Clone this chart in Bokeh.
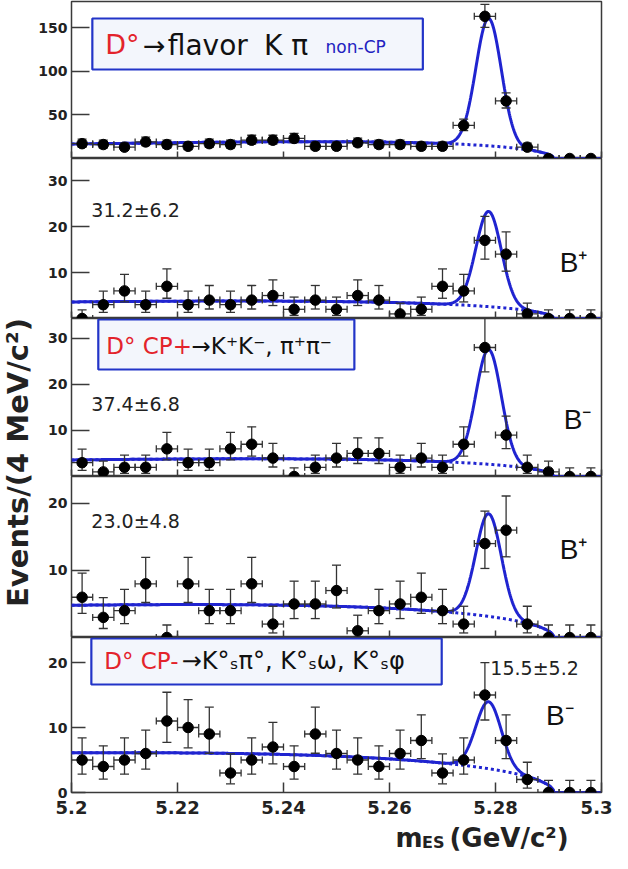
import math
import numpy as np
from bokeh.plotting import figure
from bokeh.layouts import column, row
from bokeh.models import Range1d, FixedTicker, Label, BoxAnnotation, CustomJSTickFormatter
from bokeh.embed import file_html
from bokeh.resources import INLINE

# ---------------- data ----------------
mes = [5.202, 5.206, 5.210, 5.214, 5.218, 5.222, 5.226, 5.230, 5.234, 5.238,
       5.242, 5.246, 5.250, 5.254, 5.258, 5.262, 5.266, 5.270, 5.274, 5.278,
       5.282, 5.286, 5.290, 5.294, 5.298]
half_bin = 0.002

flavor_kpi = [17, 16, 13, 19, 16, 14, 17, 16, 21, 21, 23, 14, 14, 18, 16, 16, 14, 14, 38, 163, 66, 13, 0, 0, 0]
cpp_bplus  = [0, 3, 6, 3, 7, 3, 4, 3, 4, 5, 2, 4, 2, 5, 4, 1, 2, 7, 6, 17, 14, 1, 0, 0, 0]
cpp_bminus = [3, 1, 2, 2, 6, 3, 3, 6, 7, 4, 0, 2, 4, 5, 5, 2, 4, 2, 7, 28, 9, 2, 1, 0, 0]
cpm_bplus  = [6, 3, 4, 8, 0, 8, 4, 4, 8, 2, 5, 5, 7, 1, 4, 5, 6, 4, 2, 14, 16, 2, 0, 0, 0]
cpm_bminus = [5, 4, 5, 6, 11, 10, 9, 3, 5, 7, 4, 9, 6, 5, 4, 6, 8, 3, 5, 15, 8, 2, 0, 0, 0]
series = [flavor_kpi, cpp_bplus, cpp_bminus, cpm_bplus, cpm_bminus]

# fit parameters (ARGUS background + Gaussian signal)
bkg_level_at_start = [16.5, 3.6, 3.6, 4.8, 6.1]
argus_xi = [-29.0, -22.0, -23.0, -19.0, -16.0]
peak_height = [146.0, 20.7, 24.9, 15.3, 10.3]
argus_endpoint = 5.291
peak_mean = 5.2787
peak_sigma = 0.0024

yields = ["", "31.2\u00b16.2", "37.4\u00b16.8", "23.0\u00b14.8", "15.5\u00b15.2"]
charge = ["", "B\u207a", "B\u207b", "B\u207a", "B\u207b"]

y_ticks = [[50, 100, 150], [10, 20, 30], [10, 20, 30], [10, 20], [0, 10, 20]]
y_max = [180.0, 34.8, 34.3, 24.0, 23.85]
x_ticks = [5.2, 5.22, 5.24, 5.26, 5.28, 5.3]
x_tick_labels = ["5.2", "5.22", "5.24", "5.26", "5.28", "5.3"]

# ---------------- layout constants ----------------
PAGE = 8
W_LAB = 35
BORDER_L = 34
FRAME_W = 530
BORDER_R = 13
PANEL_W = BORDER_L + FRAME_W + BORDER_R
frame_h = [157, 160, 158, 161, 155]
frame_top_page = [9, 166, 326, 484, 645]
AXIS_BORDER = 30
TITLE_H = 30
BLUE = "#2024d0"
RED = "#e3232b"
FRAME_COL = "#3a3a3a"
TXT = "#222222"


def px_x(px):
    # reference page pixel -> data x
    return 5.2 + (px - 78.0) / 5340.0


def px_y(i, py):
    bottom = frame_top_page[i] + frame_h[i]
    return (bottom - py) / frame_h[i] * y_max[i]


def argus(m, xi):
    x = np.asarray(m, dtype=float) / argus_endpoint
    u = np.clip(1.0 - x * x, 0.0, None)
    return x * np.sqrt(u) * np.exp(xi * u)


grid = np.linspace(5.2, 5.3, 1001)

panels = []
for i in range(5):
    last = (i == 4)
    p = figure(frame_width=FRAME_W, frame_height=frame_h[i],
               x_range=Range1d(5.2, 5.3), y_range=Range1d(0, y_max[i]),
               toolbar_location=None, output_backend="svg",
               min_border_left=BORDER_L, min_border_right=BORDER_R,
               min_border_top=1 if i == 0 else 0,
               min_border_bottom=AXIS_BORDER if last else 0)
    p.grid.visible = False
    p.outline_line_color = FRAME_COL
    p.outline_line_width = 1.5
    p.background_fill_color = "white"
    p.border_fill_color = "white"

    ya = p.yaxis[0]
    ya.ticker = FixedTicker(ticks=y_ticks[i])
    ya.major_tick_in = 14 if last else 18
    ya.major_tick_out = 0
    ya.minor_tick_in = 0
    ya.minor_tick_out = 0
    ya.axis_line_color = None
    ya.major_tick_line_color = FRAME_COL
    ya.major_tick_line_width = 1.5
    ya.major_label_text_font = "DejaVu Sans"
    ya.major_label_text_font_style = "bold"
    ya.major_label_text_font_size = "14px"
    ya.major_label_text_color = TXT
    ya.major_label_standoff = 4

    xa = p.xaxis[0]
    xa.ticker = FixedTicker(ticks=x_ticks)
    xa.major_tick_in = 10 if last else 7
    xa.major_tick_out = 0
    xa.minor_tick_in = 0
    xa.minor_tick_out = 0
    xa.axis_line_color = None
    xa.major_tick_line_color = FRAME_COL
    xa.major_tick_line_width = 1.5
    if last:
        xa.major_label_overrides = {t: s for t, s in zip(x_ticks, x_tick_labels)}
        xa.major_label_text_font = "DejaVu Sans"
        xa.major_label_text_font_style = "bold"
        xa.major_label_text_font_size = "18px"
        xa.major_label_text_color = TXT
        xa.major_label_standoff = 8
    else:
        xa.formatter = CustomJSTickFormatter(code="return ''")
        xa.major_label_standoff = 0

    # fit curves
    bkg = bkg_level_at_start[i] * argus(grid, argus_xi[i]) / argus(5.2, argus_xi[i])
    sig = peak_height[i] * np.exp(-0.5 * ((grid - peak_mean) / peak_sigma) ** 2)
    p.line(grid, bkg, line_color=BLUE, line_width=3, line_dash="3 3")
    p.line(grid, bkg + sig, line_color=BLUE, line_width=3)

    # data with Poisson (Gehrels) errors
    n = np.array(series[i], dtype=float)
    x = np.array(mes)
    lo = np.where(n > 0, n - np.sqrt(np.clip(n - 0.25, 0, None)), 0.0)
    hi = n + 1.0 + np.sqrt(n + 0.75)
    ec = "#333333"
    p.segment(x, lo, x, hi, line_color=ec, line_width=1.3)
    p.segment(x - half_bin, n, x + half_bin, n, line_color=ec, line_width=1.3)
    p.scatter(x, hi, marker="dash", size=9, line_color=ec, line_width=1.3)
    p.scatter(x[n > 0], lo[n > 0], marker="dash", size=9, line_color=ec, line_width=1.3)
    p.scatter(np.concatenate([x - half_bin, x + half_bin]), np.concatenate([n, n]),
              marker="dash", angle=math.pi / 2, size=7, line_color=ec, line_width=1.3)
    p.scatter(x, n, marker="circle", size=10.5, fill_color="black", line_color="black")

    if yields[i]:
        if i < 4:
            yx, yy = px_x(98), px_y(i, [0, 217, 411, 528][i])
        else:
            yx, yy = px_x(500), px_y(i, 675)
        p.add_layout(Label(x=yx, y=yy, text=yields[i], text_font="DejaVu Sans",
                           text_font_size="19px", text_color=TXT,
                           text_baseline="middle", text_align="left"))
    if charge[i]:
        cxp = [0, 570, 574, 570, 556][i]
        cyp = [0, 270, 427, 557, 723][i]
        p.add_layout(Label(x=px_x(cxp), y=px_y(i, cyp), text=charge[i],
                           text_font="Liberation Sans", text_font_size="28px",
                           text_color="#111111", text_baseline="middle", text_align="left"))
    panels.append(p)


# ---------------- boxed captions ----------------
def caption_box(i, left, right, top, bottom):
    panels[i].add_layout(BoxAnnotation(left=px_x(left), right=px_x(right),
                                       top=px_y(i, top), bottom=px_y(i, bottom),
                                       fill_color="#f3f6fc", fill_alpha=1.0,
                                       line_color="#2234c8", line_alpha=1.0, line_width=2.2,
                                       level="overlay"))


def caption_text(i, px, py, text, color, size):
    panels[i].add_layout(Label(x=px_x(px), y=px_y(i, py), text=text,
                               text_font="DejaVu Sans", text_font_size=size,
                               text_color=color, text_baseline="middle",
                               text_align="left", level="overlay"))


caption_box(0, 99, 432, 26, 77)
caption_text(0, 112, 52, "D\u00b0", RED, "27px")
caption_text(0, 150, 53, "\u2192", "#111111", "27px")
caption_text(0, 175, 53, "flavor", "#111111", "28px")
caption_text(0, 272, 53, "K \u03c0", "#111111", "28px")
caption_text(0, 334, 54, "non-CP", "#2222c0", "17px")

caption_box(2, 105, 363, 327, 377)
caption_text(2, 113, 353, "D\u00b0 CP+", RED, "23px")
caption_text(2, 199, 353, "\u2192K\u207aK\u207b, \u03c0\u207a\u03c0\u207b", "#111111", "23px")

caption_box(4, 98, 451, 646, 692)
caption_text(4, 111, 668, "D\u00b0 CP-", RED, "23px")
caption_text(4, 189, 668, "\u2192K\u00b0\u209b\u03c0\u00b0, K\u00b0\u209b\u03c9, K\u00b0\u209b\u03c6", "#111111", "24px")

# ---------------- x-axis title strip ----------------
title_top = frame_top_page[4] + frame_h[4] + AXIS_BORDER
xt = figure(width=PANEL_W, height=TITLE_H, x_range=Range1d(0, PANEL_W),
            y_range=Range1d(TITLE_H, 0), x_axis_type=None, y_axis_type=None,
            toolbar_location=None, output_backend="svg",
            min_border_left=0, min_border_right=0, min_border_top=0, min_border_bottom=0)
xt.grid.visible = False
xt.outline_line_color = None
x_off = PAGE + W_LAB
xt.add_layout(Label(x=397 - x_off, y=845 - title_top, text="m", text_font="DejaVu Sans",
                    text_font_style="bold", text_font_size="26px", text_color=TXT,
                    text_baseline="middle", text_align="left"))
xt.add_layout(Label(x=426 - x_off, y=850 - title_top, text="ES", text_font="DejaVu Sans",
                    text_font_style="bold", text_font_size="16px", text_color=TXT,
                    text_baseline="middle", text_align="left"))
xt.add_layout(Label(x=456 - x_off, y=845 - title_top, text="(GeV/c\u00b2)", text_font="DejaVu Sans",
                    text_font_style="bold", text_font_size="26px", text_color=TXT,
                    text_baseline="middle", text_align="left"))

# ---------------- y-axis title strip ----------------
total_h = sum(frame_h) + 1 + AXIS_BORDER + TITLE_H
lab = figure(width=W_LAB, height=total_h, x_range=Range1d(0, W_LAB),
             y_range=Range1d(total_h, 0), x_axis_type=None, y_axis_type=None,
             toolbar_location=None, output_backend="svg",
             min_border_left=0, min_border_right=0, min_border_top=0, min_border_bottom=0)
lab.grid.visible = False
lab.outline_line_color = None
lab.add_layout(Label(x=W_LAB / 2, y=470 - PAGE, text="Events/(4 MeV/c\u00b2)", angle=math.pi / 2,
                     text_font="DejaVu Sans", text_font_style="bold", text_font_size="29px",
                     text_color=TXT, text_align="center", text_baseline="middle"))

layout = row(lab, column(*panels, xt))
open("out.html", "w").write(file_html(layout, INLINE))
